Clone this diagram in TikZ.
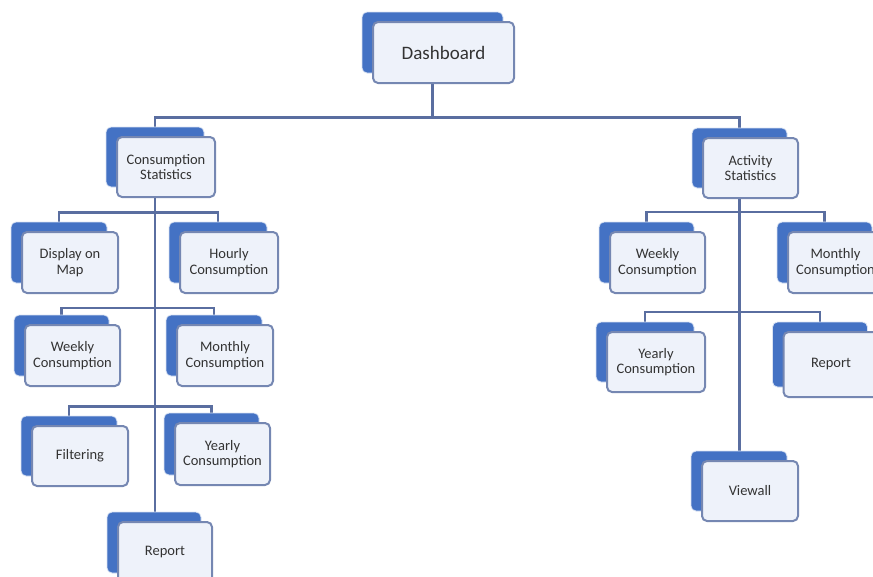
\documentclass[tikz,border=0pt]{standalone}
\usepackage{fontspec}
\setmainfont{Carlito}
\pgfdeclarelayer{bg}
\pgfsetlayers{bg,main}
\definecolor{cardblue}{HTML}{4472C4}
\definecolor{cardfill}{HTML}{EEF2FA}
\definecolor{cardedge}{HTML}{7587B2}
\definecolor{linkcol}{HTML}{5A6EA0}
\definecolor{textcol}{HTML}{333333}
\tikzset{
  backcard/.style={draw=white!80!cardblue, line width=0.8pt, fill=cardblue,
    rounded corners=5pt, inner sep=0pt},
  frontcard/.style={draw=cardedge, line width=2pt, fill=cardfill,
    rounded corners=5pt, inner sep=2pt, align=center, text=textcol,
    font=\fontsize{14.5}{15.5}\selectfont},
  bigcard/.style={font=\fontsize{19}{21}\selectfont},
  link/.style={draw=linkcol, line width=2.3pt},
}
% \cardbox[extra]{name}{cx}{cy}{w}{h}{text}: a stacked pair of cards,
% the blue one sitting up and to the left of the labelled one
\newcommand\cardbox[7][]{%
  \node[backcard, minimum width=#5pt, minimum height=#6pt] (#2-b) at (#3-11,#4-10) {};
  \node[frontcard, #1, minimum width=#5pt, minimum height=#6pt] (#2) at (#3,#4) {#7};}
\begin{document}
\begin{tikzpicture}[x=1pt,y=-1pt]
\useasboundingbox (0,0) rectangle (873,576);
\clip (0,0) rectangle (873,576);

% root
\cardbox[bigcard]{db}{443.5}{52.5}{141}{61}{Dashboard}

% consumption branch
\cardbox{cs}{166}{167}{98}{60}{Consumption\\Statistics}
\cardbox{dm}{70}{262.5}{96}{61}{Display on\\Map}
\cardbox{hc}{229}{262.5}{98}{61}{Hourly\\Consumption}
\cardbox{wl}{72.5}{355.5}{95}{61}{Weekly\\Consumption}
\cardbox{ml}{225}{355.5}{96}{61}{Monthly\\Consumption}
\cardbox{fi}{80}{456}{96}{60}{Filtering}
\cardbox{yl}{222.5}{454}{95}{62}{Yearly\\Consumption}
\cardbox{rl}{165}{552.5}{94}{61}{Report}

% activity branch
\cardbox{as}{750.5}{168}{95}{60}{Activity\\Statistics}
\cardbox{wr}{657.5}{262.5}{95}{61}{Weekly\\Consumption}
\cardbox{mr}{835.5}{262.5}{95}{61}{Monthly\\Consumption}
\cardbox{yr}{656}{362}{98}{60}{Yearly\\Consumption}
\cardbox{rr}{831}{364.5}{95}{65}{Report}
\cardbox{va}{750}{491}{96}{60}{Viewall}

\begin{pgfonlayer}{bg}
  % root to the two statistics cards
  \draw[link] (cs-b.north) -- ++(0,-9) -| (as-b.north);
  \draw[link] (db-b.south) -- ++(0,45);
  % consumption trunk and its three rows
  \draw[link] (cs-b.south) -- (cs-b.south |- rl-b.north);
  \draw[link] (dm-b.north) -- ++(0,-9) -| (hc-b.north);
  \draw[link] (wl-b.north) -- ++(0,-6.5) -| (ml-b.north);
  \draw[link] (fi-b.north) -- ++(0,-9) -| (yl-b.north);
  % activity trunk and its two rows
  \draw[link] (as-b.south) -- (as-b.south |- va-b.north);
  \draw[link] (wr-b.north) -- ++(0,-9.5) -| (mr-b.north);
  \draw[link] (yr-b.north) -- ++(0,-9.5) -| (rr-b.north);
\end{pgfonlayer}
\end{tikzpicture}
\end{document}
